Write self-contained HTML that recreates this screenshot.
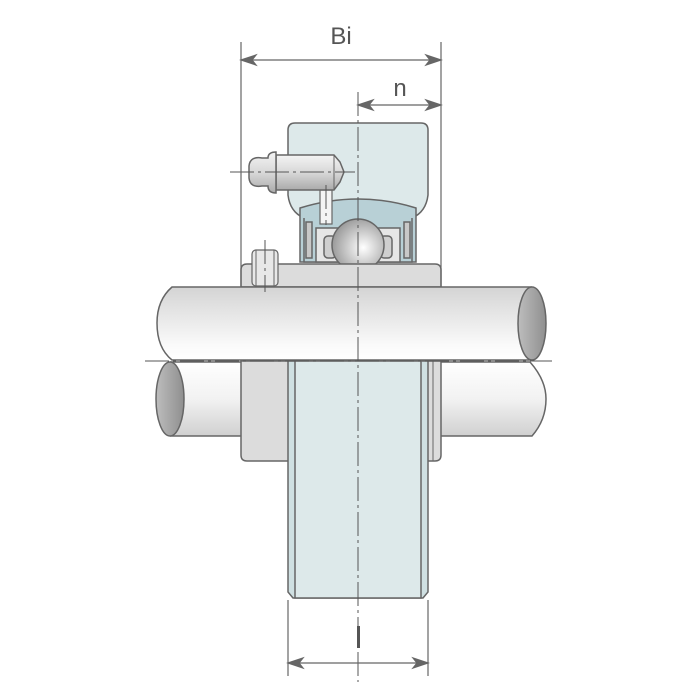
<!DOCTYPE html>
<html><head><meta charset="utf-8"><style>html,body{margin:0;padding:0;background:#fff}svg{display:block}</style></head>
<body>
<svg width="700" height="700" viewBox="0 0 700 700" xmlns="http://www.w3.org/2000/svg">
<defs>
<linearGradient id="sh" x1="0" y1="0" x2="0" y2="1">
<stop offset="0" stop-color="#d4d4d4"/><stop offset="0.8" stop-color="#fafafa"/><stop offset="1" stop-color="#ffffff"/></linearGradient>
<linearGradient id="sh2" x1="0" y1="0" x2="0" y2="1">
<stop offset="0" stop-color="#ffffff"/><stop offset="0.5" stop-color="#f2f2f2"/><stop offset="1" stop-color="#d0d0d0"/></linearGradient>
<linearGradient id="end" x1="0" y1="0" x2="1" y2="0">
<stop offset="0" stop-color="#bdbdbd"/><stop offset="1" stop-color="#8f8f8f"/></linearGradient>
<radialGradient id="ball" cx="0.6" cy="0.55" r="0.6">
<stop offset="0" stop-color="#ffffff"/><stop offset="1" stop-color="#9a9a9a"/></radialGradient>
<linearGradient id="nip" x1="0" y1="0" x2="0" y2="1">
<stop offset="0" stop-color="#f4f4f4"/><stop offset="0.5" stop-color="#d8d8d8"/><stop offset="1" stop-color="#aaa"/></linearGradient>
</defs>
<g stroke="#666" stroke-width="1.5" fill="none">
<!-- upper housing -->
<path d="M288 130 Q288 123 295 123 L421 123 Q428 123 428 130 L428 195 Q426 212 412 218 L412 262 L304 262 L304 218 Q290 212 288 195 Z" fill="#dde9ea"/>
<path d="M300 208 Q358 190 416 208 L416 262 L300 262 Z" fill="#b8d0d6"/>
<rect x="316" y="228" width="84" height="34" fill="#e6e6e6"/>
<path d="M304 218 L304 262 M412 218 L412 262" />
<path d="M306 222 L312 222 L312 258 L306 258 Z M404 222 L410 222 L410 258 L404 258 Z" fill="#c8c8c8"/>
<rect x="324" y="236" width="12" height="22" rx="4" fill="#cfcfcf"/>
<rect x="380" y="236" width="12" height="22" rx="4" fill="#cfcfcf"/>
<rect x="320" y="190" width="12" height="34" fill="#f4f4f4" stroke-width="1.2"/>
<circle cx="358" cy="245" r="26" fill="url(#ball)"/>
<!-- upper inner ring -->
<path d="M241 287 L241 270 Q241 264 247 264 L435 264 Q441 264 441 270 L441 287 Z" fill="#dcdcdc"/>
<!-- set screw -->
<rect x="252" y="250" width="26" height="36" rx="4" fill="#e8e8e8" stroke-width="1.2"/>
<path d="M256 250 L256 286 M274 250 L274 286" stroke-width="1"/>
<!-- grease nipple -->
<path d="M276 155 L334 155 L340 162 L344 172 L340 182 L334 190 L276 190 Z" fill="url(#nip)"/>
<path d="M334 155 L334 190" stroke-width="1"/>
<path d="M276 152 L276 193 Q268 193 268 186 L262 186 Q250 188 249 178 L249 166 Q250 156 262 158 L268 158 Q268 152 276 152 Z" fill="url(#nip)"/>
<!-- lower shaft -->
<path d="M170 362 L530 362 Q546 380 546 399 Q546 420 532 436 L170 436" fill="url(#sh2)"/>
<ellipse cx="170" cy="399" rx="14" ry="37" fill="url(#end)"/>
<!-- lower inner ring -->
<path d="M241 361 L441 361 L441 455 Q441 461 435 461 L247 461 Q241 461 241 455 Z" fill="#dcdcdc"/>
<path d="M433 361 L433 461" stroke-width="1"/>
<!-- lower housing -->
<path d="M288 361 L428 361 L428 592 L423 598 L293 598 L288 592 Z" fill="#cfe0e2"/>
<rect x="295" y="361" width="126" height="237" fill="#dde9ea"/>
<!-- upper shaft -->
<path d="M532 287 L172 287 Q157 300 157 323 Q157 348 172 360 L532 360" fill="url(#sh)"/>
<ellipse cx="532" cy="323.5" rx="14" ry="36.5" fill="url(#end)"/>
</g>
<!-- center lines -->
<g stroke="#555" stroke-width="1" fill="none" stroke-dasharray="24,4,3,4">
<path d="M358 92 L358 682"/>
<path d="M145 361 L552 361"/>
<path d="M230 172 L355 172"/>
<path d="M326 185 L326 225"/>
<path d="M265 240 L265 292"/>
</g>
<!-- dimension lines -->
<g stroke="#666" stroke-width="1.2" fill="#666">
<path d="M241 42 L241 287 M441 42 L441 287 M288 600 L288 676 M428 600 L428 676" fill="none"/>
<path d="M245 60 L437 60 M362 105 L437 105 M292 663 L424 663" fill="none"/>
<path d="M241 60 L256 55 L252 60 L256 65 Z M441 60 L426 55 L430 60 L426 65 Z"/>
<path d="M358 105 L373 100 L369 105 L373 110 Z M441 105 L426 100 L430 105 L426 110 Z"/>
<path d="M288 663 L303 658 L299 663 L303 668 Z M428 663 L413 658 L417 663 L413 668 Z"/>
</g>
<g font-family="Liberation Sans, sans-serif" font-size="24" fill="#555" text-anchor="middle">
<text x="341" y="44">Bi</text>
<text x="400" y="96">n</text>
</g>
<rect x="357" y="626" width="3" height="22" fill="#555"/>
</svg>
</body></html>
